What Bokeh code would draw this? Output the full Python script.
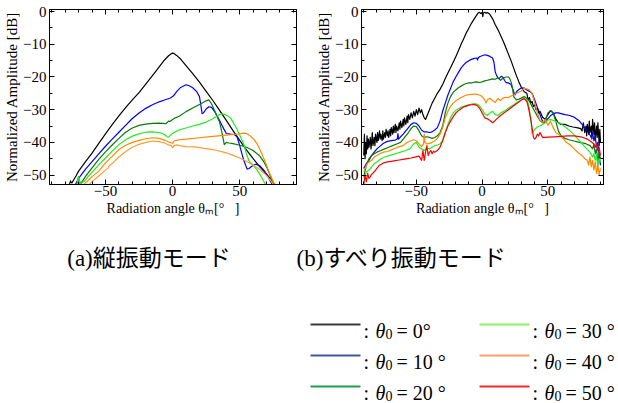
from bokeh.plotting import figure
from bokeh.models import Range1d, LinearAxis, FixedTicker
from bokeh.layouts import column, row
from bokeh.embed import file_html
from bokeh.resources import INLINE
from bokeh.core.properties import value

# ---------------- data : (a) longitudinal vibration mode ----------------
a_ang0 = [-77, -76, -75.5, -75, -72, -70, -65, -60, -55, -50, -45, -40, -35, -30, -25, -20, -15, -10, -6, -3, -1, 0, 1, 3, 6, 10, 15, 20, 25, 30, 35, 40, 45, 50, 55, 60, 65, 70, 73, 75, 76]
a_db0 = [-53, -51.8, -52.3, -52.4, -50.3, -48.8, -46, -43.3, -40.3, -37.4, -34.6, -31.9, -29.4, -27, -24.8, -22.2, -19.6, -16.9, -14.8, -13.5, -12.9, -12.7, -12.8, -13.4, -14.5, -16.5, -19, -21.6, -24.4, -27.2, -30.2, -33.3, -36.4, -39.4, -42.3, -45, -47.5, -49.7, -51.2, -52.4, -53.5]

a_ang1 = [-72.5, -70, -65, -60, -55, -50, -45, -40, -35, -30, -25, -20, -15, -10, -5, -2, 0, 1, 3, 6, 10, 12, 15, 18, 20, 21, 22, 23, 25, 27, 29, 32, 35, 38, 40, 43, 46, 48, 50, 53, 55.5, 57, 60, 62, 65, 68, 71, 73, 75]
a_db1 = [-53, -51, -48.3, -45.9, -43.5, -41.2, -39, -36.9, -34.8, -32.7, -31, -29.6, -28.5, -27.6, -26.9, -26.5, -26, -25.6, -24.5, -23.2, -22.4, -22.6, -23.3, -24.5, -26, -28.5, -31.2, -31, -29.8, -29.1, -29.3, -31, -33.3, -35.8, -37.3, -37.5, -37.6, -38.3, -41, -45.5, -48.2, -48, -47, -46.7, -47.2, -48.5, -50.5, -52, -53.5]

a_ang2 = [-71.5, -70.5, -70, -69.5, -69, -67, -65, -60, -55, -50, -45, -40, -35, -30, -25, -20, -15, -10, -5, -3, -2, 0, 2, 5, 10, 15, 20, 25, 27, 29, 31, 33, 35, 37, 38.5, 40, 42, 45, 50, 55, 60, 65, 68, 70, 72, 74, 76]
a_db2 = [-53, -51.5, -50.6, -51.5, -52.8, -51.8, -50.5, -47.8, -45.2, -42.9, -40.8, -38.8, -36.9, -35.6, -34.8, -34.4, -34.2, -34.1, -34.3, -33.5, -33.6, -33, -32.5, -32, -30.6, -29.5, -28.4, -27.3, -27, -28.2, -30, -32, -33.8, -37.5, -40.7, -40, -40.2, -40.4, -40.9, -41.5, -42.5, -44.2, -46, -47.5, -49.5, -51.5, -53.5]

a_ang3 = [-71, -70.5, -70, -69.5, -69, -68, -66, -63, -60, -55, -50, -45, -40, -35, -30, -25, -20, -15, -10, -6, -4, -3, -1, 0, 2, 5, 10, 15, 20, 25, 30, 33, 35, 37, 39, 41, 43, 45, 48, 50, 53, 55, 57, 60, 63, 66, 68, 70]
a_db3 = [-53, -51, -50.4, -51.5, -53, -52.5, -52, -50.5, -49.2, -46.9, -44.8, -42.7, -40.7, -39.2, -38.1, -37.4, -36.9, -36.8, -37, -37.6, -38.3, -38.4, -37.6, -37.2, -36.8, -36.2, -35.6, -35, -34.5, -33.8, -32.8, -32, -31.5, -31.3, -31.5, -31.9, -32.5, -33.8, -36, -37.8, -40.5, -43.5, -45.8, -47, -48.5, -50.5, -52, -53.5]

a_ang4 = [-67, -65, -62, -60, -55, -50, -45, -40, -35, -30, -25, -20, -15, -10, -6, -3, -1, 0, 1, 3, 5, 10, 20, 30, 40, 45, 50, 53, 55, 57, 60, 63, 66, 69, 72, 75, 78]
a_db4 = [-53.5, -52.5, -51.3, -50.5, -48.8, -46.3, -44.3, -42.2, -40.9, -40, -39.4, -38.9, -38.6, -38.8, -39.3, -39.9, -40.1, -40.3, -39.6, -39.4, -39.2, -39, -38.6, -38.2, -37.8, -37.6, -37.4, -37.2, -37.3, -37.8, -38.8, -40.5, -43, -46, -49.2, -52, -54]

a_ang5 = [-64, -62, -60, -55, -50, -48, -47, -45, -40, -35, -30, -25, -20, -15, -10, -6, -3, -1, 0, 1, 3, 5, 10, 16, 20, 30, 40, 45, 50, 55, 60, 65, 70, 73, 76]
a_db5 = [-53.5, -52.8, -52, -50.3, -48.5, -47.8, -47, -46.5, -44.5, -42.8, -41.5, -40.6, -40, -39.6, -39.8, -40.2, -40.8, -41, -41.6, -41, -40.8, -41, -41.3, -41.4, -41.6, -42.2, -43.2, -44, -44.8, -45.8, -47, -48.3, -50.2, -51.6, -53.5]

# ---------------- data : (b) shear (slip) vibration mode ----------------
b_ang0 = [-90, -89.5, -89, -88.5, -88, -87.5, -87, -86.5, -86, -85, -84.5, -84, -83.5, -83, -82, -81.5, -81, -80, -79.5, -79, -78, -77.5, -77, -76, -75.5, -75, -74, -73.5, -73, -72, -71.5, -71, -70, -69.5, -69, -68, -67.5, -67, -66, -65.5, -65, -64, -63, -62.5, -62, -61, -60, -59.5, -59, -58, -57, -56.5, -56, -55, -54, -53, -52, -51, -50, -49, -48, -47, -46, -45, -44, -43, -42, -41, -40, -39, -38, -36, -34, -32, -30, -28, -26, -24, -22, -20, -18, -16, -14, -12, -10, -8, -6, -4, -3, -2, -1, 0, 0.5, 1, 2, 3, 4, 5, 6, 8, 10, 12, 14, 16, 18, 20, 22, 24, 26, 28, 30, 32, 34, 35, 36, 37, 38, 39, 40, 41, 42, 43, 44, 46, 48, 50, 52, 54, 56, 58, 60, 63, 66, 69, 72, 75, 76, 77, 78, 79, 79.5, 80, 81, 81.5, 82, 83, 83.5, 84, 85, 85.5, 86, 87, 87.5, 88, 88.5, 89, 89.5, 90]
b_db0 = [-44, -37.5, -45, -40, -43.5, -38, -42, -39, -41.5, -38.5, -42, -40, -37, -41, -38.5, -41, -37.5, -40, -37, -39.5, -36.5, -39, -37.5, -39.5, -36.5, -39, -37, -38.5, -36, -38, -36.5, -38.5, -36, -38, -35.5, -37.5, -35, -37, -34.5, -37, -35, -36.5, -34, -36, -33.5, -35.5, -33, -35, -32.5, -34.5, -32, -34, -31.5, -33, -31, -32.5, -30.5, -32, -30, -31.5, -29.5, -31, -30, -31.5, -32.5, -33, -32, -31, -30, -29, -28, -26.5, -25, -23.8, -22.3, -20.5, -18.8, -17.2, -15.5, -13.8, -12, -10, -8.3, -6.5, -5, -3.5, -2.2, -1, -0.4, -0.2, -0.6, -0.3, -1.5, -0.4, -0.2, -0.5, -0.3, -0.5, -0.9, -2.2, -4, -5.5, -7.2, -9, -11, -13, -15, -17.3, -19.5, -21.5, -23.3, -24.5, -25, -27, -26.3, -28, -27.5, -29, -28.5, -30, -29.5, -31, -30.5, -32.3, -33, -31.5, -30.3, -31, -32.8, -34, -34.5, -34.5, -35, -35.3, -35.5, -35.8, -36.5, -34, -37, -35, -38, -34.5, -37.5, -33.5, -37, -35, -39, -33, -37.5, -34, -39.5, -35, -38.5, -34, -37, -41, -36, -40]

b_ang1 = [-90, -88, -86, -84, -82, -80, -78, -75, -72, -69, -66, -64.5, -64, -63.5, -62, -60, -58, -56, -54, -52, -50, -48, -46, -44, -42, -40, -38, -36, -34, -32, -30, -28, -26, -24, -22, -20, -18, -16, -14, -12, -10, -8, -6, -4, -3.5, -3, -2, 0, 2, 4, 6, 8, 9, 10, 11, 12, 13, 14, 15, 16, 17, 18, 19, 20, 22, 24, 25, 26, 28, 30, 32, 34, 36, 38, 40, 42, 44, 46, 47, 48, 50, 52, 54, 56, 58, 60, 63, 66, 70, 74, 78, 81, 83, 84, 85, 86, 87, 88, 89, 90]
b_db1 = [-48, -46.5, -45.5, -44, -43, -42, -41.3, -40.3, -39.7, -39.5, -39.3, -39, -37.3, -39, -38.3, -37.5, -36.5, -35.5, -34.5, -34, -34.2, -35, -36.3, -36.8, -36.8, -37, -36.8, -36.2, -35.5, -33.5, -30.5, -28, -25.5, -23.5, -21.5, -20, -18.6, -17.3, -16.3, -15.5, -15, -14.6, -14.3, -14.2, -14.8, -14.2, -13.8, -13.5, -13.2, -13.4, -13.7, -14.2, -15.5, -18.5, -19.5, -20.3, -20.5, -20, -19.8, -20.2, -21, -21.6, -21.8, -21.8, -22.3, -24.5, -25.5, -24.6, -23.8, -23.3, -23.4, -24, -24.4, -25, -27, -29.3, -31.5, -33.6, -34, -33.5, -32.8, -31.8, -31.3, -31, -31, -31.2, -31.5, -31.7, -32.3, -33.5, -35.5, -37, -38.5, -37, -39.5, -38, -41.5, -40, -44, -47]

b_ang2 = [-90, -88, -86, -84, -82, -80, -77, -74, -71, -68, -65, -62, -60, -58, -56, -54, -52, -50, -48, -46, -44, -42, -40, -38, -36, -34, -32, -30, -28, -26, -24, -22, -20, -18, -16, -14, -12, -10, -8, -6, -4, -2, 0, 2, 4, 6, 8, 10, 12, 14, 16, 18, 20, 21, 22, 23, 24, 26, 28, 30, 32, 34, 36, 38, 40, 42, 44, 46, 48, 50, 52, 53, 54, 56, 58, 60, 63, 66, 70, 74, 78, 82, 84, 85, 86, 87, 88, 89, 90]
b_db2 = [-50.5, -47, -45, -44, -43.5, -43, -42.5, -42, -41.5, -41, -40.5, -40, -39, -38, -37, -35.8, -35, -35.2, -36.5, -38, -38.5, -38.3, -38.5, -38.8, -38.5, -38, -37, -35, -31, -28, -26, -24.7, -24, -23.3, -22.8, -22.3, -22, -21.8, -21.8, -21.6, -21.5, -21.7, -21.5, -21.2, -21, -20.8, -20.6, -20.7, -20.2, -21, -20.3, -20, -20, -20.5, -21.5, -23, -26, -27, -26.8, -26.4, -26, -26.5, -27.5, -29, -30.5, -32, -33.3, -34, -33.5, -31, -30.3, -30.5, -31, -33.5, -36.5, -38, -38.8, -39.2, -39.6, -40, -40.3, -41, -42, -40.5, -43.5, -42, -46, -43, -45]

b_ang3 = [-90, -88, -86, -84, -82, -80, -77, -74, -70, -66, -62, -58, -55, -52, -50, -48, -46, -44, -42, -40, -38, -36, -34, -32, -30, -28, -26, -24, -22, -20, -18, -16, -14, -12, -10, -8, -6, -4, -2, 0, 2, 4, 6, 8, 10, 12, 14, 16, 18, 20, 22, 24, 26, 28, 30, 32, 34, 35, 36, 37, 38, 40, 42, 44, 46, 48, 50, 52, 54, 56, 58, 60, 63, 66, 70, 74, 78, 82, 84, 85, 86, 87, 88, 89, 90]
b_db3 = [-51, -49, -48.5, -47.5, -46.5, -46, -45, -44.5, -44, -43.5, -43, -42.5, -42, -40.5, -40, -41.5, -42, -42.5, -41.8, -42, -41.5, -41, -40.8, -40.5, -39.5, -37, -34.5, -32.5, -31, -30.2, -29.7, -29.3, -29, -28.7, -28.5, -28.3, -28.2, -28.3, -28.8, -30, -31.3, -31.8, -31, -30.5, -31.5, -31.8, -31, -30.6, -30.2, -29.5, -29, -28.5, -28, -27.5, -27, -26.6, -27, -28, -30, -33, -37.3, -36, -35.3, -35, -34.5, -34, -33.2, -33, -33.3, -33.6, -34, -34.3, -35.2, -36.2, -37.7, -39.5, -41.3, -43, -44.5, -43.5, -45.5, -44, -47.5, -45, -46]

b_ang4 = [-90, -88, -86, -84, -82, -80, -78, -75, -72, -69, -66, -63, -60, -58, -56, -54, -52, -50, -48, -46, -44.5, -44, -43.5, -42, -40, -38, -36, -34, -32, -30, -28, -26, -24, -22, -20, -18, -16, -14, -12, -10, -8, -6, -4, -2, 0, 2, 3, 4, 6, 8, 10, 12, 14, 16, 18, 20, 22, 24, 26, 28, 30, 32, 34, 36, 38, 40, 42, 44, 46, 48, 50, 52, 54, 56, 58, 60, 62, 64, 66, 68, 70, 72, 74, 76, 78, 80, 81, 82, 83, 84, 85, 86, 87, 88, 89, 90]
b_db4 = [-49, -47, -46, -45.5, -44.5, -44, -43.5, -43, -42.8, -42.3, -41.8, -41.3, -41, -40.3, -39.8, -39.5, -39.2, -39.5, -40.5, -41.3, -40.5, -37.5, -40, -40.5, -40.3, -40, -39.5, -38.8, -37.5, -35.5, -32.5, -30.5, -29, -28, -27.3, -26.8, -26.3, -25.9, -25.6, -25.4, -25.3, -25.2, -25.3, -25.5, -26, -27, -28, -27, -26.5, -27.3, -27.8, -26.6, -27.2, -26.4, -26.2, -26.3, -25.8, -25.5, -25, -24.6, -24.3, -23.5, -23.6, -24, -25, -28, -31, -33.2, -34, -33, -34.8, -33.5, -35.5, -37, -37.5, -38.3, -39, -40, -40.5, -41.2, -42, -42.8, -43.5, -44, -45, -45.5, -47, -44.5, -47.5, -45.5, -48.5, -46, -49.5, -47, -50, -48]

b_ang5 = [-90, -89, -88, -87, -86, -85, -84, -82, -80, -78, -75, -72, -69, -66, -63, -60, -57, -54, -51, -48, -46, -45, -44, -43, -42, -41, -40, -39, -38, -37, -36, -34, -32, -30, -28, -26, -24, -22, -20, -18, -16, -14, -12, -10, -8, -6, -4, -2, 0, 2, 4, 6, 8, 10, 12, 14, 16, 18, 20, 22, 24, 26, 28, 30, 32, 34, 35, 36, 37, 38, 39, 40, 41, 42, 43, 44, 45, 46, 48, 50, 55, 60, 65, 70, 75, 80, 83, 85, 86, 87, 88, 89, 90]
b_db5 = [-53, -50, -52, -49.5, -51, -50.5, -49.8, -49, -48, -47, -46.3, -46, -45.8, -45.6, -45.4, -45.2, -45, -44.8, -44.5, -44.2, -45.5, -42.5, -45.5, -43, -41, -44, -43, -42.5, -43.5, -42.7, -43, -42.5, -41.5, -39.5, -37, -35, -33.5, -32.2, -31, -30.3, -29.7, -29.2, -28.9, -28.6, -28.5, -28.4, -28.7, -29.5, -31, -32.5, -32.8, -33.3, -34, -33.3, -32.5, -31.8, -31.2, -30.6, -30, -29.4, -28.8, -28.2, -27.6, -27, -26.6, -27.5, -29, -31, -33, -35.5, -38.5, -39, -38.5, -37.5, -38, -37, -37.7, -38.5, -38.5, -38.4, -38.3, -38.2, -38, -38, -38.3, -39, -39.8, -40.5, -41.5, -40.5, -42.5, -41.5, -44]

theta0 = [0, 10, 20, 30, 40, 50]
captions = ["(a)縦振動モード", "(b)すべり振動モード"]
x_title = "Radiation angle θ\u2098[°\u00a0\u00a0\u00a0]"
y_title = "Normalized Amplitude [dB]"

X_MAJOR = [-50, 0, 50]
X_MINOR = list(range(-90, 91, 10))
Y_MAJOR = [0, -10, -20, -30, -40, -50]
Y_MINOR = list(range(-50, 1, 5))

a_colors = ["#000000", "#0000ff", "#0a7a0a", "#22ee22", "#ff8a00", "#ff9d30"]
b_colors = ["#000000", "#0000ff", "#0a7a0a", "#22ee22", "#ff8a00", "#ff0000"]
legend_colors = ["#3c3c3c", "#3d5a9e", "#1f9e4a", "#8ef060", "#f3a46c", "#f52a2a"]

SERIF = "Liberation Serif"
CJK = "Liberation Serif, Noto Sans CJK JP"


def add_axis(p, side, ticker, labelled, standoff=4, title=None, title_size="15px", title_standoff=0):
    ax = LinearAxis(ticker=ticker)
    ax.axis_line_color = "black"
    ax.major_tick_in = 5
    ax.major_tick_out = 0
    ax.minor_tick_in = 3
    ax.minor_tick_out = 0
    ax.major_tick_line_color = "black"
    ax.minor_tick_line_color = "black"
    if labelled:
        ax.major_label_text_font = SERIF
        ax.major_label_text_font_size = "15px"
        ax.major_label_text_color = "black"
        ax.major_label_standoff = standoff
    else:
        ax.major_label_text_font_size = "1px"
        ax.major_label_text_color = None
        ax.major_label_standoff = 0
    if title:
        ax.axis_label = title
        ax.axis_label_text_font = SERIF
        ax.axis_label_text_font_size = title_size
        ax.axis_label_text_font_style = "normal"
        ax.axis_label_text_color = "black"
        ax.axis_label_standoff = title_standoff
    p.add_layout(ax, side)


def make_panel(width, left_border, right_border, angs, dbs, colors):
    p = figure(width=width, height=230, output_backend="svg", toolbar_location=None,
               x_range=Range1d(-91.7, 92.3), y_range=Range1d(-52.9, 0.65),
               x_axis_location=None, y_axis_location=None,
               min_border_left=left_border, min_border_right=right_border,
               min_border_top=9, min_border_bottom=46)
    p.grid.visible = False
    p.outline_line_color = "black"
    p.background_fill_color = "white"
    p.border_fill_color = "white"
    xt = FixedTicker(ticks=X_MAJOR, minor_ticks=X_MINOR)
    yt = FixedTicker(ticks=Y_MAJOR, minor_ticks=Y_MINOR)
    add_axis(p, "below", xt, True, standoff=1, title=x_title, title_size="14px", title_standoff=2)
    add_axis(p, "left", yt, True, standoff=3, title=y_title, title_size="15px", title_standoff=0)
    add_axis(p, "above", xt, False)
    add_axis(p, "right", yt, False)
    for a, d, c in zip(angs, dbs, colors):
        p.line(a, d, line_color=c, line_width=1.2, line_join="round")
    return p


p1 = make_panel(313, 49, 17, [a_ang0, a_ang1, a_ang2, a_ang3, a_ang4, a_ang5],
                [a_db0, a_db1, a_db2, a_db3, a_db4, a_db5], a_colors)
p2 = make_panel(305, 41, 15, [b_ang0, b_ang1, b_ang2, b_ang3, b_ang4, b_ang5],
                [b_db0, b_db1, b_db2, b_db3, b_db4, b_db5], b_colors)

# ---------------- captions + legend panel ----------------
p3 = figure(width=618, height=173, output_backend="svg", toolbar_location=None,
            x_range=Range1d(0, 618), y_range=Range1d(173, 0),
            x_axis_location=None, y_axis_location=None,
            min_border_left=0, min_border_right=0, min_border_top=0, min_border_bottom=0)
p3.grid.visible = False
p3.outline_line_color = None
p3.background_fill_color = "white"
p3.border_fill_color = "white"

p3.text(x=[148.5, 401.5], y=[28, 28], text=captions, text_align="center",
        text_baseline="middle", text_font=value(CJK), text_font_size="23px", text_color="black")

col_x = [310, 479]
row_y = [94, 125, 156]
for i, th in enumerate(theta0):
    cx = col_x[i // 3]
    ry = row_y[i % 3]
    p3.line([cx, cx + 50], [ry, ry], line_color=legend_colors[i], line_width=2)
    p3.text(x=[cx + 53], y=[ry + 6], text=[":"], text_font=value(SERIF),
            text_font_size="20px", text_baseline="alphabetic", text_color="black")
    p3.text(x=[cx + 65], y=[ry + 6], text=["θ"], text_font=value(SERIF),
            text_font_size="20px", text_font_style="italic", text_baseline="alphabetic",
            text_color="black")
    p3.text(x=[cx + 75], y=[ry + 9], text=["0"], text_font=value(SERIF),
            text_font_size="14px", text_baseline="alphabetic", text_color="black")
    lab = "= %d°" % th if th == 0 else "= %d °" % th
    p3.text(x=[cx + 86], y=[ry + 6], text=[lab], text_font=value(SERIF),
            text_font_size="20px", text_baseline="alphabetic", text_color="black")

layout = column(row(p1, p2), p3)
open("out.html", "w").write(file_html(layout, INLINE))
